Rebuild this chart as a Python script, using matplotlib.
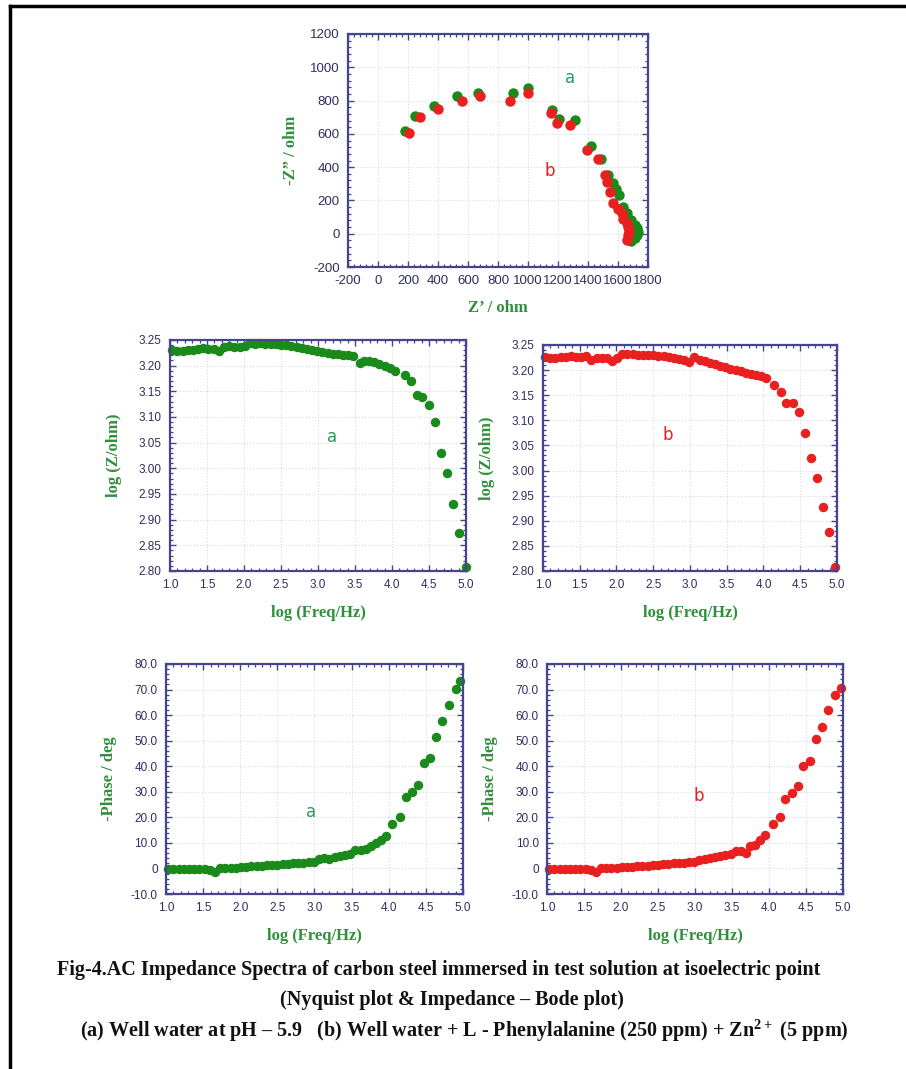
import matplotlib
matplotlib.use("Agg")
import matplotlib.pyplot as plt
from matplotlib.ticker import MultipleLocator, AutoMinorLocator, FuncFormatter
from matplotlib.lines import Line2D

plt.rcParams['axes.unicode_minus'] = False
plt.rcParams['mathtext.fontset'] = 'custom'
plt.rcParams['mathtext.rm'] = 'Liberation Serif:bold'
plt.rcParams['mathtext.bf'] = 'Liberation Serif:bold'

# ---- Nyquist data (Z' , -Z'')
nyq_a_x = [179, 245, 372, 524, 664, 898, 998, 1159, 1210, 1314, 1421, 1488, 1535, 1569, 1587, 1609,
           1633, 1662, 1689, 1711, 1729, 1733, 1729, 1711, 1689]
nyq_a_y = [616, 706, 769, 827, 843, 847, 877, 743, 691, 683, 526, 452, 353, 303, 268, 233,
           162, 122, 82, 52, 32, 12, -8, -28, -42]
nyq_b_x = [208, 279, 401, 557, 680, 880, 998, 1152, 1192, 1281, 1392, 1470, 1513, 1524, 1547, 1569,
           1602, 1624, 1636, 1658, 1669, 1676, 1669, 1662]
nyq_b_y = [608, 699, 747, 797, 827, 797, 847, 723, 666, 652, 506, 452, 353, 313, 253, 183,
           147, 122, 86, 62, 42, 18, -8, -38]

# ---- Bode |Z| data
lf_mod_a = [1.03, 1.10, 1.17, 1.24, 1.31, 1.38, 1.45, 1.52, 1.59, 1.66, 1.73, 1.80, 1.87, 1.94, 2.01,
            2.08, 2.15, 2.22, 2.29, 2.36, 2.43, 2.50, 2.57, 2.64, 2.71, 2.78, 2.85, 2.92, 2.99, 3.06,
            3.13, 3.20, 3.27, 3.34, 3.41, 3.48, 3.57, 3.62, 3.69, 3.76, 3.83, 3.90, 3.97, 4.04, 4.17,
            4.26, 4.34, 4.41, 4.50, 4.58, 4.66, 4.74, 4.82, 4.90, 5.00]
logz_a = [3.230, 3.228, 3.229, 3.230, 3.231, 3.233, 3.234, 3.233, 3.232, 3.229, 3.237, 3.238, 3.237,
          3.237, 3.238, 3.244, 3.243, 3.244, 3.243, 3.243, 3.242, 3.241, 3.240, 3.238, 3.236, 3.234,
          3.232, 3.230, 3.228, 3.227, 3.225, 3.223, 3.222, 3.221, 3.220, 3.219, 3.205, 3.209, 3.209,
          3.207, 3.204, 3.199, 3.196, 3.190, 3.182, 3.170, 3.143, 3.139, 3.123, 3.090, 3.030, 2.990,
          2.931, 2.874, 2.807]
lf_mod_b = [1.03, 1.10, 1.17, 1.24, 1.31, 1.38, 1.45, 1.52, 1.59, 1.66, 1.73, 1.80, 1.87, 1.94, 2.01,
            2.08, 2.15, 2.22, 2.29, 2.36, 2.43, 2.50, 2.57, 2.64, 2.71, 2.78, 2.85, 2.92, 2.99, 3.06,
            3.13, 3.20, 3.27, 3.34, 3.41, 3.48, 3.55, 3.62, 3.69, 3.76, 3.83, 3.90, 3.97, 4.04, 4.15,
            4.24, 4.30, 4.40, 4.48, 4.56, 4.65, 4.73, 4.81, 4.89, 4.97]
logz_b = [3.226, 3.225, 3.225, 3.226, 3.227, 3.228, 3.227, 3.226, 3.228, 3.221, 3.224, 3.225, 3.224,
          3.219, 3.225, 3.232, 3.232, 3.232, 3.231, 3.231, 3.231, 3.230, 3.229, 3.228, 3.226, 3.224,
          3.223, 3.221, 3.217, 3.227, 3.221, 3.218, 3.215, 3.212, 3.209, 3.206, 3.202, 3.200, 3.198,
          3.195, 3.193, 3.191, 3.189, 3.185, 3.170, 3.157, 3.135, 3.135, 3.116, 3.074, 3.025, 2.986,
          2.928, 2.878, 2.808]

# ---- Bode phase data
lf_ph_a = [1.03, 1.10, 1.17, 1.24, 1.31, 1.38, 1.45, 1.52, 1.59, 1.66, 1.73, 1.80, 1.87, 1.94, 2.01,
           2.08, 2.15, 2.22, 2.29, 2.36, 2.43, 2.50, 2.57, 2.64, 2.71, 2.78, 2.85, 2.92, 2.99, 3.06,
           3.13, 3.20, 3.27, 3.34, 3.41, 3.48, 3.55, 3.62, 3.69, 3.76, 3.83, 3.90, 3.96, 4.05, 4.15,
           4.23, 4.32, 4.40, 4.47, 4.55, 4.64, 4.72, 4.81, 4.90, 4.96]
phase_a = [-0.3, -0.3, -0.3, -0.3, -0.4, -0.3, -0.3, -0.2, -0.6, -1.2, 0.0, 0.1, 0.0, 0.2, 0.4,
           0.6, 0.8, 1.0, 1.1, 1.2, 1.4, 1.5, 1.6, 1.8, 2.0, 2.1, 2.2, 2.4, 2.6, 3.6,
           4.1, 3.8, 4.5, 5.0, 5.4, 5.6, 7.3, 7.4, 7.8, 8.8, 10.0, 11.0, 12.8, 17.4, 20.3,
           27.8, 30.0, 32.7, 41.1, 43.1, 51.6, 57.7, 64.0, 70.1, 73.5]
lf_ph_b = [1.03, 1.10, 1.17, 1.24, 1.31, 1.38, 1.45, 1.52, 1.59, 1.66, 1.73, 1.80, 1.87, 1.94, 2.01,
           2.08, 2.15, 2.22, 2.29, 2.36, 2.43, 2.50, 2.57, 2.64, 2.71, 2.78, 2.85, 2.92, 2.99, 3.06,
           3.13, 3.20, 3.27, 3.34, 3.41, 3.48, 3.55, 3.62, 3.69, 3.74, 3.81, 3.88, 3.95, 4.05, 4.15,
           4.22, 4.31, 4.39, 4.46, 4.55, 4.64, 4.71, 4.80, 4.89, 4.97]
phase_b = [-0.2, -0.2, -0.3, -0.3, -0.3, -0.3, -0.3, -0.4, -0.6, -1.3, 0.2, 0.1, 0.0, 0.1, 0.4,
           0.6, 0.7, 0.8, 1.0, 1.1, 1.3, 1.4, 1.6, 1.8, 2.0, 2.1, 2.2, 2.4, 2.6, 3.4,
           3.8, 4.0, 4.3, 4.8, 5.2, 5.5, 6.8, 6.9, 6.2, 8.7, 9.3, 11.0, 13.0, 17.3, 20.3,
           27.0, 29.4, 32.3, 40.0, 42.1, 50.5, 55.2, 62.0, 67.9, 70.7]

green = '#1a8a1a'
red = '#e82020'
navy = '#45458f'
tickcol = '#2e2e5e'
labcol = '#2f8f3a'

fig = plt.figure(figsize=(9.06, 10.69), dpi=100)


def style_axes(ax, fs):
    for s in ax.spines.values():
        s.set_color(navy)
        s.set_linewidth(1.6)
    ax.tick_params(which='both', direction='in', top=True, right=True, color=navy,
                   labelcolor=tickcol, labelsize=fs, pad=6)
    ax.tick_params(which='major', length=4, width=1.0)
    ax.tick_params(which='minor', length=2.5, width=0.9)
    ax.xaxis.set_minor_locator(AutoMinorLocator(5))
    ax.yaxis.set_minor_locator(AutoMinorLocator(5))
    ax.grid(True, which='major', color='#d6dbe8', ls=':', lw=0.8)
    ax.set_axisbelow(True)
    for t in ax.get_xticklabels() + ax.get_yticklabels():
        t.set_family('Liberation Sans')


def axlabels(ax, xl, yl, xpad, ypad):
    ax.set_xlabel(xl, family='Liberation Serif', weight='bold', color=labcol, fontsize=12, labelpad=xpad)
    ax.set_ylabel(yl, family='Liberation Serif', weight='bold', color=labcol, fontsize=12, labelpad=ypad)


# Nyquist
ax0 = fig.add_axes([0.3841, 0.7502, 0.3311, 0.2180])
ax0.plot(nyq_a_x, nyq_a_y, 'o', color=green, ms=6.5, mec=green, clip_on=False)
ax0.plot(nyq_b_x, nyq_b_y, 'o', color=red, ms=6.5, mec=red, clip_on=False)
ax0.set_xlim(-200, 1800)
ax0.set_ylim(-200, 1200)
ax0.xaxis.set_major_locator(MultipleLocator(200))
ax0.yaxis.set_major_locator(MultipleLocator(200))
style_axes(ax0, 9.5)
axlabels(ax0, 'Z\u2019 / ohm', '-Z\u201d / ohm', 9, 8)
ax0.text(1281, 933, 'a', color='#2a9a5a', fontsize=12, ha='center', va='center')
ax0.text(1143, 378, 'b', color=red, fontsize=12, ha='center', va='center')

one_dec = FuncFormatter(lambda v, p: f'{v:.1f}')
two_dec = FuncFormatter(lambda v, p: f'{v:.2f}')
ph_fmt = FuncFormatter(lambda v, p: '0' if abs(v) < 1e-9 else f'{v:.1f}')

# Bode |Z|
pos_mod = [[0.1876, 0.4659, 0.3267, 0.2161], [0.5993, 0.4659, 0.3245, 0.2114]]
pos_ph = [[0.1832, 0.1637, 0.3278, 0.2152], [0.6038, 0.1637, 0.3267, 0.2152]]
mods = [(lf_mod_a, logz_a, green, 'a', '#2a9a5a', 3.19, 3.061),
        (lf_mod_b, logz_b, red, 'b', red, 2.70, 3.07)]
for pos, (xs, ys, c, lab, lc, tx, ty) in zip(pos_mod, mods):
    ax = fig.add_axes(pos)
    ax.plot(xs, ys, 'o', color=c, ms=5.8, mec=c, clip_on=False)
    ax.set_xlim(1.0, 5.0)
    ax.set_ylim(2.80, 3.25)
    ax.xaxis.set_major_locator(MultipleLocator(0.5))
    ax.yaxis.set_major_locator(MultipleLocator(0.05))
    ax.xaxis.set_major_formatter(one_dec)
    ax.yaxis.set_major_formatter(two_dec)
    style_axes(ax, 8.5)
    axlabels(ax, 'log (Freq/Hz)', 'log (Z/ohm)', 10, 12)
    ax.text(tx, ty, lab, color=lc, fontsize=12, ha='center', va='center')

# Bode phase
phs = [(lf_ph_a, phase_a, green, 'a', '#2a9a5a', 2.96, 22.2),
       (lf_ph_b, phase_b, red, 'b', red, 3.05, 28.3)]
for pos, (xs, ys, c, lab, lc, tx, ty) in zip(pos_ph, phs):
    ax = fig.add_axes(pos)
    ax.plot(xs, ys, 'o', color=c, ms=5.8, mec=c, clip_on=False)
    ax.set_xlim(1.0, 5.0)
    ax.set_ylim(-10, 80)
    ax.xaxis.set_major_locator(MultipleLocator(0.5))
    ax.yaxis.set_major_locator(MultipleLocator(10))
    ax.xaxis.set_major_formatter(one_dec)
    ax.yaxis.set_major_formatter(ph_fmt)
    style_axes(ax, 8.5)
    axlabels(ax, 'log (Freq/Hz)', '-Phase / deg', 10, 10)
    ax.text(tx, ty, lab, color=lc, fontsize=12, ha='center', va='center')

# caption
cap = dict(family='Liberation Serif', weight='bold', fontsize=14.5, color='#111111')
fig.text(57 / 906, 1 - 970 / 1069, 'Fig-4.AC Impedance Spectra of carbon steel immersed in test solution at isoelectric point',
         ha='left', va='center', **cap)
fig.text(452 / 906, 1 - 1000 / 1069, '(Nyquist plot & Impedance \u2013 Bode plot)', ha='center', va='center', **cap)
fig.text(80 / 906, 1 - 1031 / 1069,
         '(a) Well water at pH \u2013 5.9   (b) Well water + L - Phenylalanine (250 ppm) + Zn$^{2+}$ (5 ppm)',
         ha='left', va='center', **cap)

# page frame
fig.add_artist(Line2D([9.5 / 906, 1.0], [1 - 6 / 1069, 1 - 6 / 1069], color='black', lw=2.5))
fig.add_artist(Line2D([9.5 / 906, 9.5 / 906], [1 - 6 / 1069, 0.0], color='black', lw=2.5))

fig.savefig('out.png', dpi=100, facecolor='white')
